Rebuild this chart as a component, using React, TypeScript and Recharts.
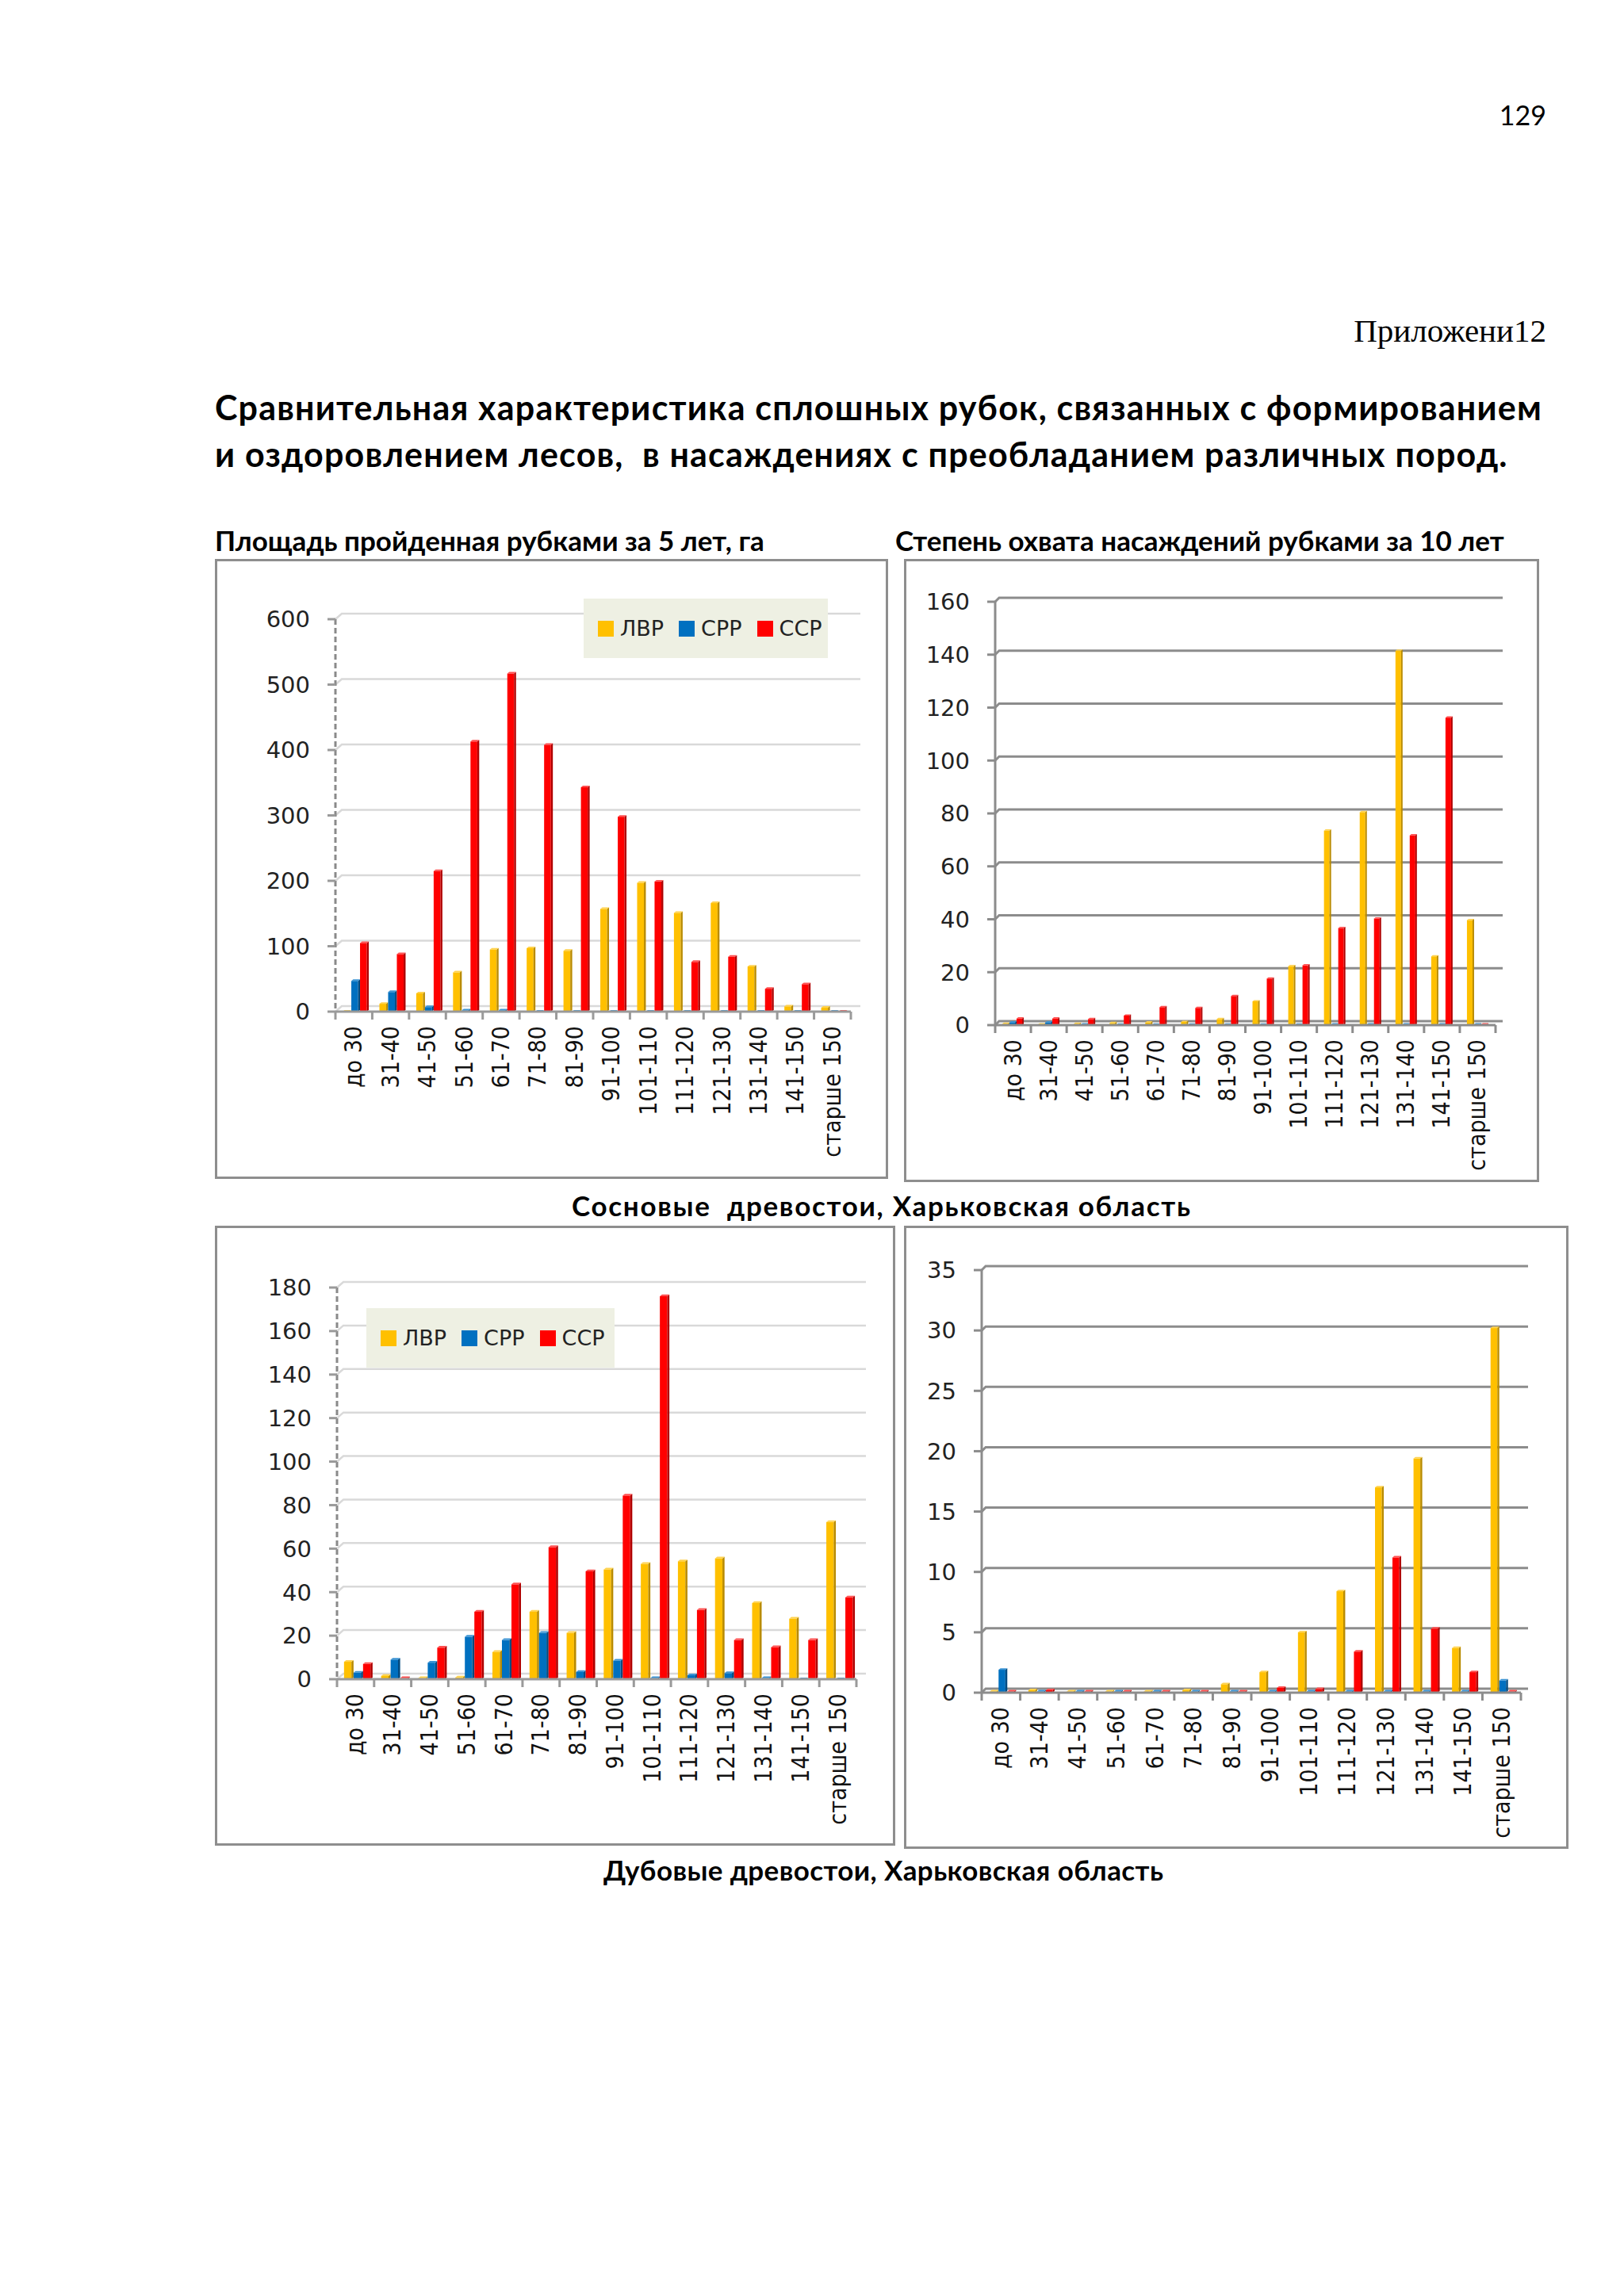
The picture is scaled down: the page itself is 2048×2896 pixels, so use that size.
import React from 'react'
import { Bar, BarChart, CartesianGrid, Legend, XAxis, YAxis } from 'recharts'

const categories = [
  'до 30', '31-40', '41-50', '51-60', '61-70', '71-80', '81-90',
  '91-100', '101-110', '111-120', '121-130', '131-140', '141-150', 'старше 150',
]

// Сосновые: площадь за 5 лет, га
const pineAreaLvr = [0, 12, 28, 60, 95, 97, 93, 157, 197, 151, 166, 69, 8, 6]
const pineAreaSrr = [47, 30, 7, 2, 2, 0, 0, 0, 0, 0, 0, 0, 0, 0]
const pineAreaSsr = [105, 88, 215, 413, 517, 408, 343, 298, 199, 76, 84, 35, 42, 0]

// Сосновые: степень охвата за 10 лет
const pineCovLvr = [0.5, 0.3, 0.5, 0.8, 1, 1.2, 2.3, 9, 22.3, 73.5, 80.5, 141.5, 26, 39.7]
const pineCovSrr = [1, 1, 0.3, 0.2, 0.2, 0.2, 0.2, 0.2, 0.2, 0.3, 0.3, 0.3, 0.3, 0.3]
const pineCovSsr = [2.5, 2.5, 2.3, 3.6, 6.8, 6.5, 11, 17.6, 22.6, 36.7, 40.3, 71.7, 116.2, 0.3]

// Дубовые: площадь
const oakAreaLvr = [8, 1.5, 0.5, 0.8, 12.5, 31, 21.3, 50.4, 53, 54.2, 55.5, 35, 27.8, 72.2]
const oakAreaSrr = [3, 9, 7.6, 19.5, 18, 21.3, 3.3, 8.5, 0.5, 1.8, 2.8, 0.5, 0, 0]
const oakAreaSsr = [7, 0.5, 14.5, 31, 43.6, 60.7, 49.6, 84.4, 176, 31.8, 18, 14.7, 18, 37.6]

// Дубовые: степень охвата
const oakCovLvr = [0.1, 0.2, 0.1, 0.1, 0.1, 0.2, 0.7, 1.7, 5, 8.4, 17, 19.4, 3.7, 30.2]
const oakCovSrr = [1.9, 0.1, 0.1, 0.1, 0.1, 0.1, 0.1, 0.1, 0.1, 0.1, 0.1, 0.1, 0.1, 1]
const oakCovSsr = [0.1, 0.2, 0.1, 0.1, 0.1, 0.1, 0.1, 0.4, 0.3, 3.4, 11.2, 5.3, 1.7, 0.1]

const ticks600 = [0, 100, 200, 300, 400, 500, 600]
const ticks160 = [0, 20, 40, 60, 80, 100, 120, 140, 160]
const ticks180 = [0, 20, 40, 60, 80, 100, 120, 140, 160, 180]
const ticks35 = [0, 5, 10, 15, 20, 25, 30, 35]

const seriesNames = { lvr: 'ЛВР', srr: 'СРР', ssr: 'ССР' }

const COLORS = {
  lvr: { front: '#FFC000', side: '#B98B00', top: '#FFD24D' },
  srr: { front: '#0070C0', side: '#004A80', top: '#3C94D4' },
  ssr: { front: '#FF0000', side: '#B00000', top: '#FF5050' },
}

const NARROW = "'Liberation Sans Narrow', 'DejaVu Sans Condensed', sans-serif"
const WIDE = "'DejaVu Sans', Verdana, sans-serif"
const HEAD = "Lato, 'Open Sans', sans-serif"

function buildRows(lvr: number[], srr: number[], ssr: number[]) {
  return categories.map((name, i) => ({ name, lvr: lvr[i], srr: srr[i], ssr: ssr[i] }))
}

// 3D column like Excel: front face, darker side, lighter top
function make3D(c: { front: string; side: string; top: string }, shift: number) {
  return (props: any) => {
    const { x, y, width, height } = props
    if (x == null || y == null || !width || height == null || isNaN(height)) return <g />
    const d = Math.min(width * 0.22, 4)
    const dy = d * 0.8
    const fx = x + shift
    const fw = width - d
    const h = Math.max(height, 0)
    return (
      <g>
        <rect x={fx} y={y} width={fw} height={h} fill={c.front} />
        <polygon
          points={`${fx + fw},${y} ${fx + width},${y - dy} ${fx + width},${y + h - dy} ${fx + fw},${y + h}`}
          fill={c.side}
        />
        <polygon
          points={`${fx},${y} ${fx + d},${y - dy} ${fx + width},${y - dy} ${fx + fw},${y}`}
          fill={c.top}
        />
      </g>
    )
  }
}

// grid line bent back onto the back wall
function gridLine(dx: number, dy: number, stroke: string, sw: number) {
  return (p: any) => (
    <path
      key={p.key}
      d={`M${p.x1},${p.y1} L${p.x1 + dx},${p.y1 - dy} L${p.x2 + dx + 4},${p.y1 - dy}`}
      stroke={stroke}
      strokeWidth={sw}
      fill="none"
    />
  )
}

function XTick(props: any) {
  const { x, y, payload, index, visibleTicksCount, lineColor } = props
  const half = payload?.offset ?? 23
  const last = index === (visibleTicksCount ?? categories.length) - 1
  return (
    <g>
      <line x1={x - half} y1={y} x2={x - half} y2={y + 10} stroke={lineColor} strokeWidth={3} />
      {last && <line x1={x + half} y1={y} x2={x + half} y2={y + 10} stroke={lineColor} strokeWidth={3} />}
      <text
        x={x + 10}
        y={y + 18}
        transform={`rotate(-90, ${x + 10}, ${y + 18})`}
        textAnchor="end"
        fontFamily={NARROW}
        fontSize={30}
        fill="#111"
      >
        {payload.value}
      </text>
    </g>
  )
}

function LegendBox({ payload }: any) {
  return (
    <div
      style={{
        background: '#EEF0E3',
        width: '100%',
        height: '100%',
        display: 'flex',
        alignItems: 'center',
        paddingLeft: 18,
        boxSizing: 'border-box',
        fontFamily: WIDE,
        fontSize: 27,
        color: '#222',
      }}
    >
      {(payload || []).map((p: any) => (
        <span key={p.value} style={{ display: 'flex', alignItems: 'center', marginRight: 19 }}>
          <span style={{ width: 20, height: 20, background: p.color, marginRight: 8, display: 'inline-block' }} />
          {p.value}
        </span>
      ))}
    </div>
  )
}

interface PanelProps {
  box: { left: number; top: number; width: number; height: number }
  m: { left: number; right: number; top: number; bottom: number }
  rows: any[]
  domain: [number, number]
  ticks: number[]
  dark: boolean
  gap: string
  shift: number
  legend?: { left: number; top: number; width: number; height: number }
}

function Panel({ box, m, rows, domain, ticks, dark, gap, shift, legend }: PanelProps) {
  const lineColor = dark ? '#8C8C8C' : '#9A9A9A'
  const grid = dark ? gridLine(5, 5, '#8C8C8C', 3) : gridLine(8, 7, '#D9D9D9', 2.5)
  return (
    <>
      <div
        style={{
          position: 'absolute',
          left: box.left,
          top: box.top,
          width: box.width,
          height: box.height,
          border: '3px solid #8E8E8E',
          boxSizing: 'border-box',
          background: '#fff',
        }}
      />
      <div style={{ position: 'absolute', left: box.left, top: box.top }}>
        <BarChart
          width={box.width}
          height={box.height}
          data={rows}
          margin={{ top: m.top, right: m.right, left: 0, bottom: 0 }}
          barCategoryGap={gap}
          barGap={0}
        >
          <CartesianGrid vertical={false} horizontal={grid} />
          <XAxis
            dataKey="name"
            interval={0}
            height={m.bottom}
            tickLine={false}
            tickSize={0}
            tickMargin={0}
            axisLine={{ stroke: lineColor, strokeWidth: 3 }}
            tick={<XTick lineColor={lineColor} />}
          />
          <YAxis
            width={m.left}
            domain={domain}
            ticks={ticks}
            interval={0}
            allowDataOverflow
            axisLine={
              dark
                ? { stroke: lineColor, strokeWidth: 3 }
                : { stroke: '#8A8A8A', strokeWidth: 3, strokeDasharray: '7 4' }
            }
            tickLine={{ stroke: lineColor, strokeWidth: 3 }}
            tickSize={10}
            tickMargin={22}
            tick={{ fontFamily: WIDE, fontSize: 29, fill: '#222' }}
          />
          {legend && (
            <Legend
              layout="vertical"
              verticalAlign="middle"
              align="center"
              content={<LegendBox />}
              wrapperStyle={{ left: legend.left, top: legend.top, width: legend.width, height: legend.height }}
            />
          )}
          <Bar dataKey="lvr" name={seriesNames.lvr} fill={COLORS.lvr.front} shape={make3D(COLORS.lvr, shift)} isAnimationActive={false} />
          <Bar dataKey="srr" name={seriesNames.srr} fill={COLORS.srr.front} shape={make3D(COLORS.srr, shift)} isAnimationActive={false} />
          <Bar dataKey="ssr" name={seriesNames.ssr} fill={COLORS.ssr.front} shape={make3D(COLORS.ssr, shift)} isAnimationActive={false} />
        </BarChart>
      </div>
    </>
  )
}

function Line({ left, right, cy, size, weight, family, text, ls = 0 }: any) {
  const h = Math.round(size * 1.5)
  const style: React.CSSProperties = {
    position: 'absolute',
    top: cy - h / 2,
    height: h,
    lineHeight: `${h}px`,
    fontSize: size,
    fontWeight: weight,
    fontFamily: family,
    letterSpacing: ls,
    whiteSpace: 'pre',
    color: '#000',
  }
  if (right != null) {
    style.right = 2048 - right
    style.textAlign = 'right'
  } else {
    style.left = left
  }
  return <div style={style}>{text}</div>
}

export default function App() {
  return (
    <div style={{ position: 'absolute', left: 0, top: 0, width: 2048, height: 2896, background: '#fff', overflow: 'hidden' }}>
      <Line right={1950} cy={144} size={34} weight={400} family={HEAD} text="129" />
      <Line right={1950} cy={417} size={41} weight={400} family="'Liberation Serif', serif" text="Приложени12" />
      <Line left={271} cy={513} size={43} weight={700} family={HEAD} ls={1.2} text="Сравнительная характеристика сплошных рубок, связанных с формированием" />
      <Line left={271} cy={572} size={43} weight={700} family={HEAD} ls={1.2} text="и оздоровлением лесов,  в насаждениях с преобладанием различных пород." />
      <Line left={271} cy={681} size={35} weight={700} family={HEAD} text="Площадь пройденная рубками за 5 лет, га" />
      <Line left={1129} cy={681} size={35} weight={700} family={HEAD} text="Степень охвата насаждений рубками за 10 лет" />

      <Panel
        box={{ left: 271, top: 705, width: 849, height: 782 }}
        m={{ left: 152, right: 47, top: 76, bottom: 211 }}
        rows={buildRows(pineAreaLvr, pineAreaSrr, pineAreaSsr)}
        domain={[0, 600]}
        ticks={ticks600}
        dark={false}
        gap="13%"
        shift={3}
        legend={{ left: 465, top: 50, width: 308, height: 75 }}
      />
      <Panel
        box={{ left: 1140, top: 705, width: 801, height: 786 }}
        m={{ left: 115, right: 55, top: 54, bottom: 198 }}
        rows={buildRows(pineCovLvr, pineCovSrr, pineCovSsr)}
        domain={[0, 160]}
        ticks={ticks160}
        dark
        gap="20%"
        shift={0}
      />

      <Line left={721} cy={1520} size={35} weight={700} family={HEAD} ls={1.7} text="Сосновые  древостои, Харьковская область" />

      <Panel
        box={{ left: 271, top: 1546, width: 858, height: 782 }}
        m={{ left: 154, right: 49, top: 78, bottom: 210 }}
        rows={buildRows(oakAreaLvr, oakAreaSrr, oakAreaSsr)}
        domain={[0, 180]}
        ticks={ticks180}
        dark={false}
        gap="12.5%"
        shift={3}
        legend={{ left: 191, top: 104, width: 313, height: 75 }}
      />
      <Panel
        box={{ left: 1140, top: 1546, width: 838, height: 786 }}
        m={{ left: 98, right: 60, top: 56, bottom: 197 }}
        rows={buildRows(oakCovLvr, oakCovSrr, oakCovSsr)}
        domain={[0, 35]}
        ticks={ticks35}
        dark
        gap="15%"
        shift={3}
      />

      <Line left={761} cy={2358} size={35} weight={700} family={HEAD} ls={0.4} text="Дубовые древостои, Харьковская область" />
    </div>
  )
}
